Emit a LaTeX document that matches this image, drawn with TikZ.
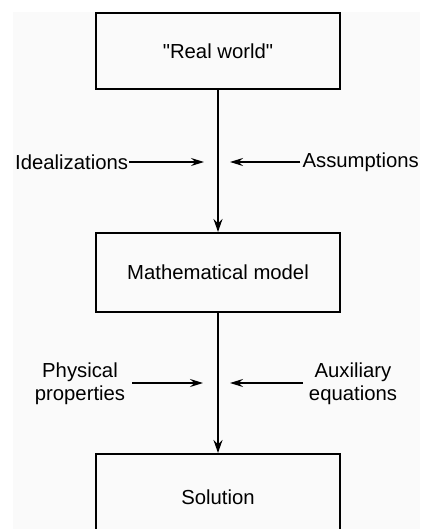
\documentclass[tikz,border=0pt]{standalone}
\usepackage{fontspec}
\setmainfont{Liberation Sans}[Ligatures=TeXOff]
\usetikzlibrary{arrows.meta}
\begin{document}
\begin{tikzpicture}[x=1bp,y=-1bp,
  every node/.style={font=\fontsize{20.3bp}{23bp}\selectfont},
  stage/.style={draw, line width=2bp, minimum width=244bp, inner sep=0pt},
  flow/.style={line width=2bp, -{Stealth[length=13bp,width=9bp,inset=4.5bp]}},
  feed/.style={line width=1.8bp, -{Stealth[length=13bp,width=8bp,inset=4.5bp]}},
  lbl/.style={align=center, inner sep=0pt}]
  \useasboundingbox (0,0) rectangle (420,529);
  \clip (0,0) rectangle (420,529);
  \fill[black!2] (13,12) rectangle (420,529);

  % the three stages
  \node[stage, minimum height=76bp] (real) at (218,51) {"Real world"};
  \node[stage, minimum height=79bp] (model) at (218,272.5) {Mathematical model};
  \node[stage, minimum height=86bp] (sol) at (218,497) {Solution};

  % main flow
  \draw[flow] (real.south) -- (model.north);
  \draw[flow] (model.south) -- (sol.north);

  % inputs to the first step
  \node[lbl, anchor=west] (ideal) at (15,162) {Idealizations};
  \node[lbl, anchor=east] (assum) at (419,162) {Assumptions};
  \coordinate (ideal-end) at (204,162);
  \coordinate (assum-end) at (230,162);
  \draw[feed] (ideal.east) ++(1,0) -- (ideal-end);
  \draw[feed] (assum.west) ++(-2,0) -- (assum-end);

  % inputs to the second step
  \node[lbl] (phys) at (80,384) {Physical\\properties};
  \node[lbl] (aux) at (353,384) {Auxiliary\\equations};
  \coordinate (phys-start) at (132,383);
  \coordinate (phys-end) at (203,383);
  \coordinate (aux-start) at (303,383);
  \coordinate (aux-end) at (230,383);
  \draw[feed] (phys-start) -- (phys-end);
  \draw[feed] (aux-start) -- (aux-end);
\end{tikzpicture}
\end{document}
